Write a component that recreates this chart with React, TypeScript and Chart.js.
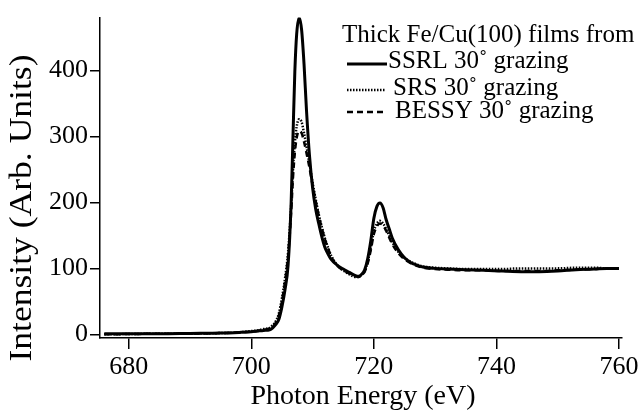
import React, { useEffect, useRef } from "react";
import { Chart, registerables } from "chart.js";

Chart.register(...registerables);

// Photon energy grid (eV)
const energy = [676, 680, 685, 690, 695, 698, 700,
  701, 702, 703, 703.5, 704, 704.5, 705, 705.5, 706, 706.5,
  706.8, 707.1, 707.4, 707.8, 708.2, 708.6, 709, 709.5, 710, 710.5,
  711, 711.5, 712, 712.5, 713, 714, 715, 716, 717, 717.5,
  718, 718.5, 719, 719.5, 720, 720.5, 721, 721.5, 722, 722.5,
  723, 724, 725, 726, 727, 728, 730, 732, 735, 738,
  741, 744, 747, 750, 753, 756, 758, 760];

const ssrl = [1, 1, 1, 1.5, 2, 3, 4,
  5, 6, 7, 10, 15, 23, 42, 68, 105, 200,
  300, 398, 455, 480, 462, 410, 340, 270, 222, 190,
  168, 148, 132, 122, 114, 105, 99, 94, 89, 88,
  91, 98, 115, 142, 176, 194, 199, 192, 174, 160,
  146, 128, 116, 109, 105, 102, 100, 99, 98, 97,
  96, 95, 95, 96, 98, 99, 100, 100];

const srs = [0, 0.5, 1, 1, 2, 3, 5,
  6, 8, 10, 14, 20, 32, 55, 85, 125, 195,
  250, 290, 315, 326, 322, 305, 285, 258, 230, 205,
  182, 163, 146, 132, 120, 105, 97, 91, 87, 87,
  90, 96, 110, 132, 156, 168, 172, 168, 160, 150,
  140, 125, 116, 110, 106, 103, 101, 100, 99, 99,
  99, 100, 100, 100, 101, 101, 100, 100];

const bessy = [0, 0.5, 1, 1, 2, 3, 4,
  5, 7, 9, 12, 18, 29, 50, 80, 118, 185,
  238, 275, 298, 308, 305, 292, 275, 252, 226, 202,
  180, 161, 144, 131, 118, 104, 97, 92, 88, 87,
  90, 95, 108, 128, 152, 164, 168, 165, 157, 147,
  137, 123, 114, 108, 104, 101, 99, 98, 97, 97,
  96, 96, 96, 97, 98, 99, 100, 100];

const xTicks = [680, 700, 720, 740, 760];
const yTicks = [0, 100, 200, 300, 400];

const legendTitle = "Thick Fe/Cu(100) films from";
const seriesLabels = ["SSRL 30˚ grazing", "SRS 30˚ grazing", "BESSY 30˚ grazing"];
const xTitle = "Photon Energy (eV)";
const yTitle = "Intensity (Arb. Units)";

const FONT = '"Liberation Serif", "Times New Roman", serif';

const toPoints = (ys: number[]) => energy.map((x, i) => ({ x, y: ys[i] }));

const decorPlugin = {
  id: "decor",
  afterDraw(chart: any) {
    const ctx = chart.ctx as CanvasRenderingContext2D;
    ctx.save();
    ctx.fillStyle = "#000";
    ctx.strokeStyle = "#000";

    // x title
    ctx.font = `28px ${FONT}`;
    ctx.textAlign = "center";
    ctx.textBaseline = "alphabetic";
    ctx.fillText(xTitle, 363, 404);

    // y title (rotated)
    ctx.save();
    ctx.translate(31, 208);
    ctx.rotate(-Math.PI / 2);
    ctx.font = `31px ${FONT}`;
    const w = ctx.measureText(yTitle).width;
    ctx.scale(307 / w, 1);
    ctx.fillText(yTitle, 0, 0);
    ctx.restore();

    // legend
    ctx.font = `25px ${FONT}`;
    ctx.textAlign = "left";
    ctx.fillText(legendTitle, 342, 42);

    const rows = [
      { y: 64, ty: 68, x0: 347, x1: 387, tx: 388, dash: [] as number[], lw: 3 },
      { y: 90, ty: 95, x0: 347, x1: 386, tx: 393, dash: [1.5, 1.5], lw: 2.5 },
      { y: 112, ty: 118, x0: 347, x1: 385, tx: 395, dash: [6, 4], lw: 2.5 },
    ];
    rows.forEach((r, i) => {
      ctx.beginPath();
      ctx.setLineDash(r.dash);
      ctx.lineWidth = r.lw;
      ctx.moveTo(r.x0, r.y);
      ctx.lineTo(r.x1, r.y);
      ctx.stroke();
      ctx.setLineDash([]);
      ctx.fillText(seriesLabels[i], r.tx, r.ty);
    });
    ctx.restore();
  },
};

export default function App() {
  const ref = useRef<HTMLCanvasElement | null>(null);

  useEffect(() => {
    if (!ref.current) return;
    const chart = new Chart(ref.current, {
      type: "line",
      data: {
        datasets: [
          {
            label: seriesLabels[0],
            data: toPoints(ssrl),
            borderColor: "#000",
            borderWidth: 3,
            pointRadius: 0,
            cubicInterpolationMode: "monotone",
            fill: false,
          },
          {
            label: seriesLabels[1],
            data: toPoints(srs),
            borderColor: "#000",
            borderWidth: 2.5,
            borderDash: [1.5, 1.5],
            pointRadius: 0,
            cubicInterpolationMode: "monotone",
            fill: false,
          },
          {
            label: seriesLabels[2],
            data: toPoints(bessy),
            borderColor: "#000",
            borderWidth: 2.5,
            borderDash: [6, 4],
            pointRadius: 0,
            cubicInterpolationMode: "monotone",
            fill: false,
          },
        ],
      },
      options: {
        responsive: false,
        devicePixelRatio: 1,
        animation: false,
        layout: { padding: { left: 0, right: 20, top: 12, bottom: 0 } },
        plugins: {
          legend: { display: false },
          tooltip: { enabled: false },
        },
        scales: {
          x: {
            type: "linear",
            min: 675.3,
            max: 760.5,
            afterBuildTicks: (s: any) => {
              s.ticks = xTicks.map((v) => ({ value: v }));
            },
            afterFit: (s: any) => {
              s.height = 75;
            },
            grid: {
              display: true,
              drawOnChartArea: false,
              drawTicks: true,
              tickLength: 11,
              color: "#000",
              lineWidth: 1.5,
            },
            border: { display: true, color: "#000", width: 1.5 },
            ticks: {
              color: "#000",
              font: { family: FONT, size: 26 },
              padding: 3,
              maxRotation: 0,
              autoSkip: false,
            },
          },
          y: {
            type: "linear",
            min: -5.5,
            max: 480,
            afterBuildTicks: (s: any) => {
              s.ticks = yTicks.map((v) => ({ value: v }));
            },
            afterFit: (s: any) => {
              s.width = 100;
            },
            grid: {
              display: true,
              drawOnChartArea: false,
              drawTicks: true,
              tickLength: 10,
              color: "#000",
              lineWidth: 1.5,
            },
            border: { display: true, color: "#000", width: 1.5 },
            ticks: {
              color: "#000",
              font: { family: FONT, size: 26 },
              padding: 2,
              autoSkip: false,
            },
          },
        },
      },
      plugins: [decorPlugin],
    } as any);
    return () => chart.destroy();
  }, []);

  return (
    <div style={{ position: "fixed", left: 0, top: 0, width: 642, height: 413, background: "#fff" }}>
      <canvas ref={ref} width={642} height={413} style={{ display: "block" }} />
    </div>
  );
}
